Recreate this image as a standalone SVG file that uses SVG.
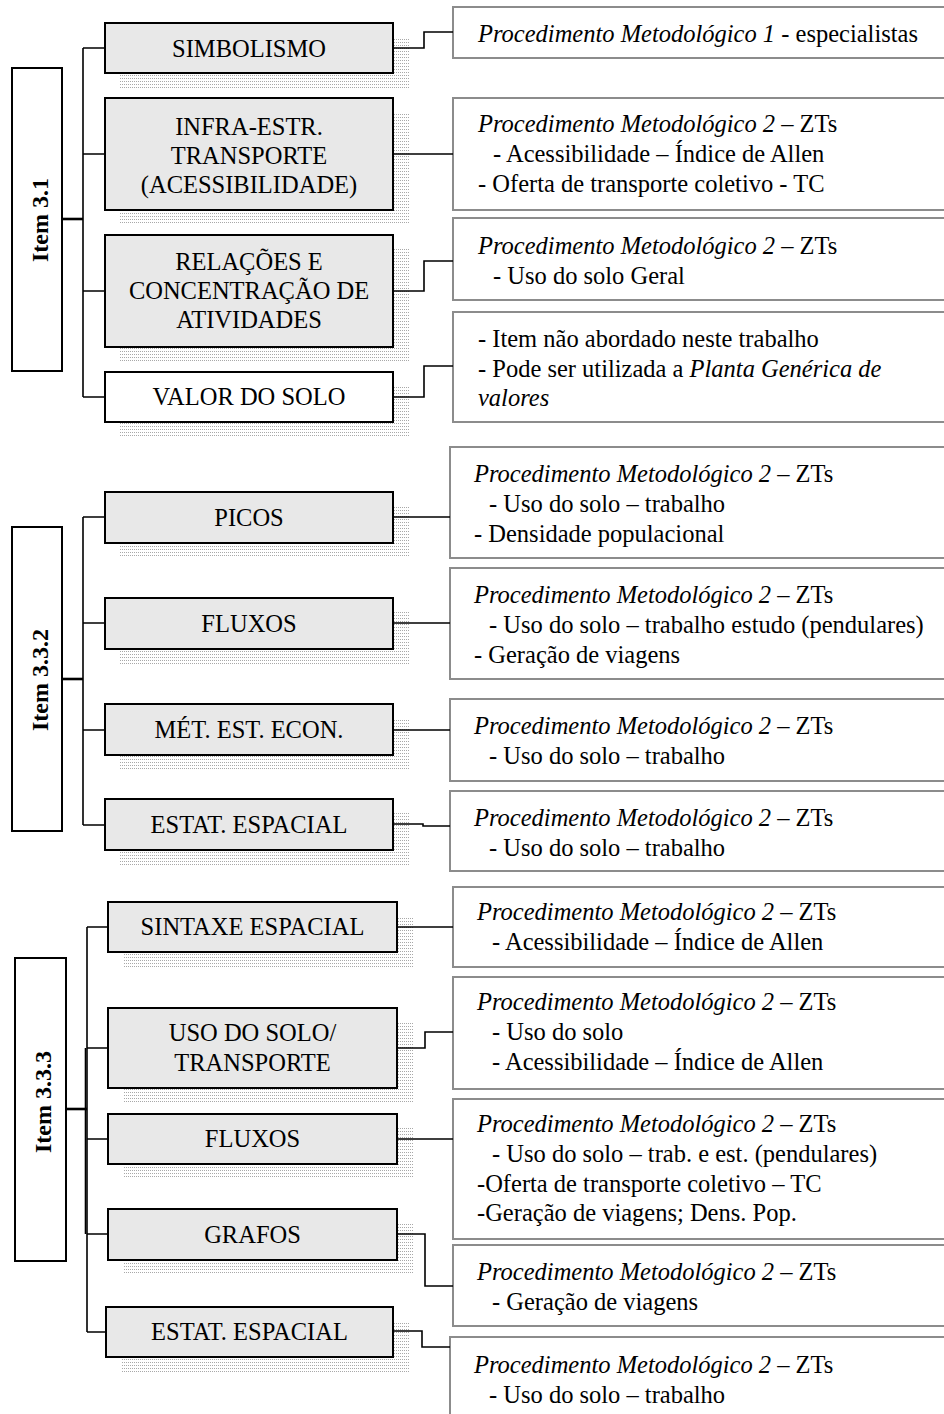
<svg xmlns="http://www.w3.org/2000/svg" width="944" height="1414" viewBox="0 0 944 1414">
<defs>
<pattern id="dots" patternUnits="userSpaceOnUse" width="2" height="3">
<rect x="0" y="0" width="1" height="1" fill="#a8a8a8"/>
</pattern>
</defs>
<style>
text{font-family:"Liberation Serif","Times New Roman",serif;font-size:24.5px;fill:#000}
.c{text-anchor:middle}
.it{font-style:italic}
.item{font-weight:bold;font-size:24px;text-anchor:middle}
.box{fill:#e8e8e8;stroke:#000;stroke-width:2}
.wbox{fill:#fff;stroke:#000;stroke-width:2}
.sh{fill:url(#dots)}
.pbox{fill:#fff;stroke:#8c8c8c;stroke-width:2}
.con{fill:none;stroke:#000;stroke-width:1.6}
.thick{fill:none;stroke:#000;stroke-width:2.6}
</style>
<rect x="0" y="0" width="944" height="1414" fill="#fff"/>

<!-- Section 1 -->
<g id="item-3-1"><rect class="wbox" x="12" y="68" width="50" height="303"/><text class="item" transform="translate(48,220) rotate(-90)">Item 3.1</text></g>
<g id="simbolismo"><rect class="sh" x="120" y="37" width="290" height="51"/><rect class="box" x="105" y="23" width="288" height="50"/><text class="c" x="249" y="57">SIMBOLISMO</text></g>
<g id="infra"><rect class="sh" x="120" y="112" width="290" height="113"/><rect class="box" x="105" y="98" width="288" height="112"/><text class="c" x="249" y="135">INFRA-ESTR.</text><text class="c" x="249" y="164">TRANSPORTE</text><text class="c" x="249" y="193">(ACESSIBILIDADE)</text></g>
<g id="relacoes"><rect class="sh" x="120" y="249" width="290" height="113"/><rect class="box" x="105" y="235" width="288" height="112"/><text class="c" x="249" y="270">RELAÇÕES E</text><text class="c" x="249" y="299">CONCENTRAÇÃO DE</text><text class="c" x="249" y="328">ATIVIDADES</text></g>
<g id="valor"><rect class="sh" x="120" y="386" width="290" height="51"/><rect class="wbox" x="105" y="372" width="288" height="50"/><text class="c" x="249" y="405">VALOR DO SOLO</text></g>

<g id="p1"><rect class="pbox" x="453" y="7" width="510" height="51"/><text x="478" y="42"><tspan class="it">Procedimento Metodológico 1</tspan> - especialistas</text></g>
<g id="p2"><rect class="pbox" x="453" y="98" width="510" height="112"/><text x="478" y="132"><tspan class="it">Procedimento Metodológico 2</tspan> – ZTs</text><text x="493" y="162">- Acessibilidade – Índice de Allen</text><text x="478" y="192">- Oferta de transporte coletivo - TC</text></g>
<g id="p3"><rect class="pbox" x="453" y="218" width="510" height="82"/><text x="478" y="254"><tspan class="it">Procedimento Metodológico 2</tspan> – ZTs</text><text x="493" y="284">- Uso do solo Geral</text></g>
<g id="p4"><rect class="pbox" x="453" y="312" width="510" height="110"/><text x="478" y="347">- Item não abordado neste trabalho</text><text x="478" y="377">- Pode ser utilizada a <tspan class="it">Planta Genérica de</tspan></text><text class="it" x="478" y="406">valores</text></g>

<!-- Section 2 -->
<g id="item-3-3-2"><rect class="wbox" x="12" y="527" width="50" height="304"/><text class="item" transform="translate(48,680) rotate(-90)">Item 3.3.2</text></g>
<g id="picos"><rect class="sh" x="120" y="506" width="290" height="52"/><rect class="box" x="105" y="492" width="288" height="51"/><text class="c" x="249" y="526">PICOS</text></g>
<g id="fluxos1"><rect class="sh" x="120" y="612" width="290" height="52"/><rect class="box" x="105" y="598" width="288" height="51"/><text class="c" x="249" y="632">FLUXOS</text></g>
<g id="met"><rect class="sh" x="120" y="718" width="290" height="52"/><rect class="box" x="105" y="704" width="288" height="51"/><text class="c" x="249" y="738">MÉT. EST. ECON.</text></g>
<g id="estat1"><rect class="sh" x="120" y="813" width="290" height="52"/><rect class="box" x="105" y="799" width="288" height="51"/><text class="c" x="249" y="833">ESTAT. ESPACIAL</text></g>

<g id="p5"><rect class="pbox" x="450" y="447" width="510" height="111"/><text x="474" y="482"><tspan class="it">Procedimento Metodológico 2</tspan> – ZTs</text><text x="489" y="512">- Uso do solo – trabalho</text><text x="474" y="542">- Densidade populacional</text></g>
<g id="p6"><rect class="pbox" x="450" y="568" width="510" height="111"/><text x="474" y="603"><tspan class="it">Procedimento Metodológico 2</tspan> – ZTs</text><text x="489" y="633">- Uso do solo – trabalho estudo (pendulares)</text><text x="474" y="663">- Geração de viagens</text></g>
<g id="p7"><rect class="pbox" x="450" y="699" width="510" height="82"/><text x="474" y="734"><tspan class="it">Procedimento Metodológico 2</tspan> – ZTs</text><text x="489" y="764">- Uso do solo – trabalho</text></g>
<g id="p8"><rect class="pbox" x="450" y="791" width="510" height="80"/><text x="474" y="826"><tspan class="it">Procedimento Metodológico 2</tspan> – ZTs</text><text x="489" y="856">- Uso do solo – trabalho</text></g>

<!-- Section 3 -->
<g id="item-3-3-3"><rect class="wbox" x="15" y="958" width="51" height="303"/><text class="item" transform="translate(51,1102) rotate(-90)">Item 3.3.3</text></g>
<g id="sintaxe"><rect class="sh" x="123" y="916" width="291" height="51"/><rect class="box" x="108" y="902" width="289" height="50"/><text class="c" x="252.5" y="935">SINTAXE ESPACIAL</text></g>
<g id="uso"><rect class="sh" x="123" y="1022" width="291" height="81"/><rect class="box" x="108" y="1008" width="289" height="80"/><text class="c" x="252.5" y="1041">USO DO SOLO/</text><text class="c" x="252.5" y="1071">TRANSPORTE</text></g>
<g id="fluxos2"><rect class="sh" x="123" y="1128" width="291" height="51"/><rect class="box" x="108" y="1114" width="289" height="50"/><text class="c" x="252.5" y="1147">FLUXOS</text></g>
<g id="grafos"><rect class="sh" x="123" y="1223" width="291" height="52"/><rect class="box" x="108" y="1209" width="289" height="51"/><text class="c" x="252.5" y="1243">GRAFOS</text></g>
<g id="estat2"><rect class="sh" x="121" y="1321" width="289" height="51"/><rect class="box" x="106" y="1307" width="287" height="50"/><text class="c" x="249.5" y="1340">ESTAT. ESPACIAL</text></g>

<g id="p9"><rect class="pbox" x="453" y="887" width="510" height="80"/><text x="477" y="920"><tspan class="it">Procedimento Metodológico 2</tspan> – ZTs</text><text x="492" y="950">- Acessibilidade – Índice de Allen</text></g>
<g id="p10"><rect class="pbox" x="453" y="977" width="510" height="112"/><text x="477" y="1010"><tspan class="it">Procedimento Metodológico 2</tspan> – ZTs</text><text x="492" y="1040">- Uso do solo</text><text x="492" y="1070">- Acessibilidade – Índice de Allen</text></g>
<g id="p11"><rect class="pbox" x="453" y="1099" width="510" height="140"/><text x="477" y="1132"><tspan class="it">Procedimento Metodológico 2</tspan> – ZTs</text><text x="492" y="1162">- Uso do solo – trab. e est. (pendulares)</text><text x="477" y="1192">-Oferta de transporte coletivo – TC</text><text x="477" y="1221">-Geração de viagens; Dens. Pop.</text></g>
<g id="p12"><rect class="pbox" x="453" y="1245" width="510" height="81"/><text x="477" y="1280"><tspan class="it">Procedimento Metodológico 2</tspan> – ZTs</text><text x="492" y="1310">- Geração de viagens</text></g>
<g id="p13"><rect class="pbox" x="450" y="1337" width="510" height="100"/><text x="474" y="1373"><tspan class="it">Procedimento Metodológico 2</tspan> – ZTs</text><text x="489" y="1403">- Uso do solo – trabalho</text></g>

<g id="connectors">
<path class="con" d="M83,48 V397 M83,48 H105 M83,154 H105 M83,291 H105 M83,397 H105"/>
<path class="thick" d="M62,219 H83"/>
<path class="con" d="M393,48 H424 V32 H453 M393,154 H453 M393,291 H424 V261 H453 M393,397 H424 V366 H453"/>
<path class="con" d="M83,517 V825 M83,517 H105 M83,623 H105 M83,730 H105 M83,825 H105"/>
<path class="thick" d="M62,679 H83"/>
<path class="con" d="M393,517 H450 M393,623 H450 M393,730 H450 M393,824 H423 V826 H450"/>
<path class="con" d="M87,927 V1332 M87,927 H108 M87,1048 H108 M87,1139 H108 M87,1234 H108 M87,1332 H106"/>
<path class="con" d="M85.5,1048 V1234"/>
<path class="thick" d="M66,1109 H87"/>
<path class="con" d="M397,927 H453 M397,1048 H425 V1032 H453 M397,1139 H453 M397,1234 H425 V1286 H453 M393,1331 H422 V1347 H450"/>
</g>
</svg>
